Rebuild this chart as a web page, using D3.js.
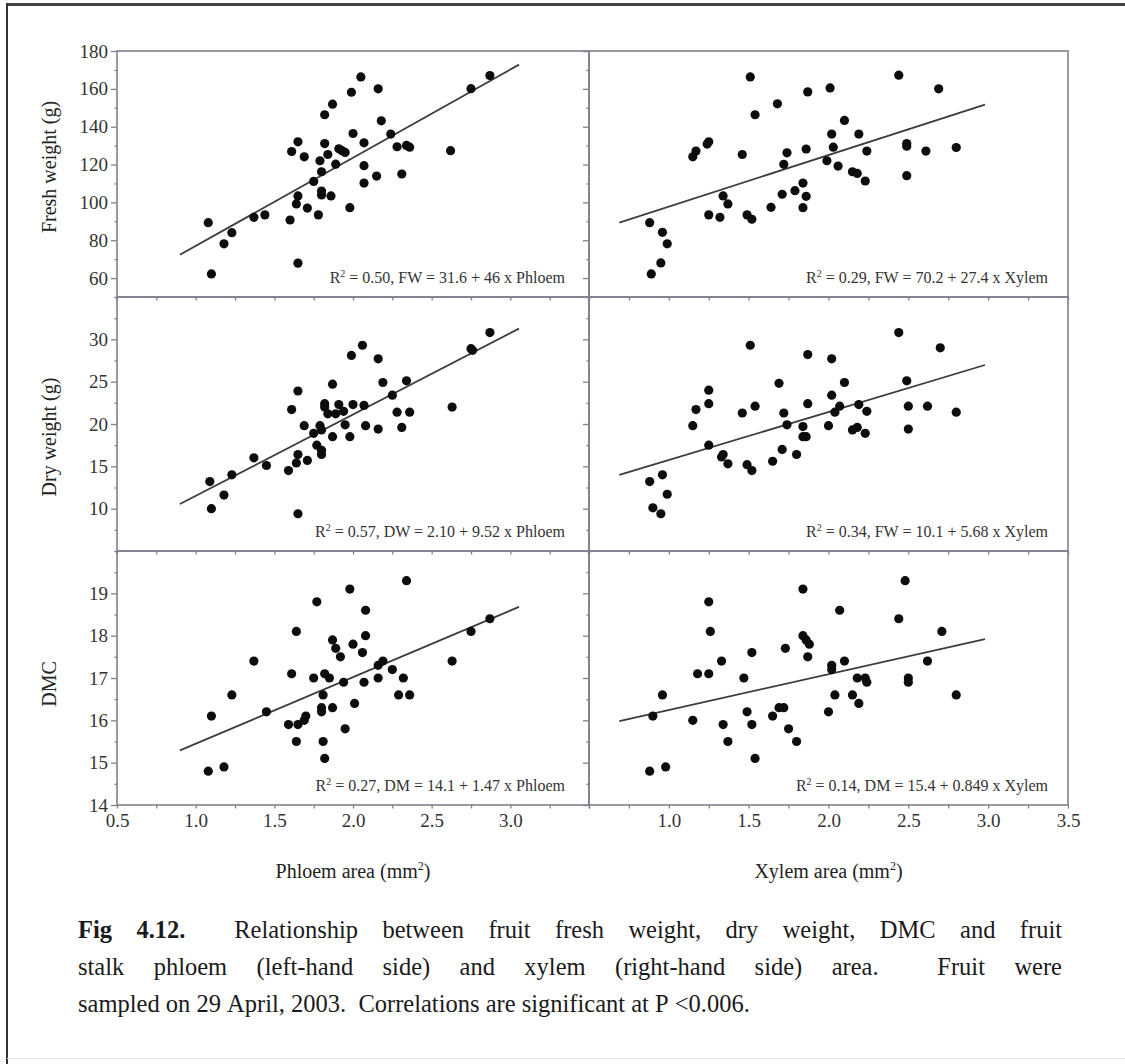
<!DOCTYPE html>
<html><head><meta charset="utf-8">
<script src="https://cdn.jsdelivr.net/npm/d3@7"></script>
<style>html,body{margin:0;padding:0;background:#fff}</style>
</head><body><svg id="chart" width="1125" height="1064"></svg>
<script>
// ---------- DATA ----------
const fwPhloemX=[1.08,1.10,1.18,1.23,1.37,1.44,1.60,1.61,1.65,1.65,1.64,1.65,1.69,1.71,1.75,1.78,1.79,1.80,1.80,1.80,1.82,1.82,1.84,1.86,1.87,1.89,1.91,1.93,1.95,1.98,1.99,2.00,2.05,2.07,2.07,2.07,2.15,2.16,2.18,2.24,2.28,2.31,2.34,2.36,2.62,2.75,2.87];
const fwPhloemY=[89.3,62.2,78.1,84.0,92.1,93.4,90.7,126.9,132.0,103.4,99.2,67.9,124.1,97.0,111.1,93.4,122.0,116.2,106.0,103.9,146.3,131.1,125.3,103.4,151.9,120.2,128.3,127.3,126.4,97.2,158.2,136.4,166.3,131.5,119.4,110.2,113.9,160.0,143.1,136.1,129.4,115.0,130.1,129.2,127.3,160.1,167.0];

const fwXylemX=[0.88,0.89,0.95,0.96,0.99,1.15,1.17,1.24,1.25,1.25,1.32,1.34,1.37,1.46,1.49,1.52,1.51,1.54,1.64,1.68,1.71,1.72,1.74,1.79,1.84,1.84,1.86,1.86,1.87,1.99,2.01,2.02,2.03,2.06,2.10,2.15,2.18,2.19,2.23,2.24,2.44,2.49,2.49,2.49,2.61,2.69,2.80];
const fwXylemY=[89.3,62.2,68.0,84.2,78.1,124.1,127.1,130.8,132.0,93.4,92.1,103.4,99.2,125.3,93.4,91.1,166.3,146.3,97.4,152.1,104.3,120.1,126.2,106.2,97.2,110.2,103.2,128.2,158.4,122.0,160.5,136.1,129.2,119.2,143.3,116.2,115.3,136.1,111.3,127.1,167.2,129.7,131.1,114.1,127.1,160.0,129.0];

const dwPhloemX=[1.09,1.10,1.18,1.23,1.37,1.45,1.59,1.61,1.65,1.65,1.64,1.65,1.69,1.71,1.75,1.77,1.79,1.80,1.80,1.80,1.82,1.82,1.84,1.87,1.87,1.89,1.91,1.94,1.95,1.98,1.99,2.00,2.06,2.07,2.08,2.16,2.16,2.19,2.25,2.28,2.31,2.34,2.36,2.63,2.75,2.87,2.76];
const dwPhloemY=[13.2,10.0,11.6,14.0,16.0,15.1,14.5,21.7,23.9,16.4,15.4,9.4,19.8,15.7,18.9,17.5,19.8,19.3,16.9,16.4,22.4,22.0,21.2,18.5,24.7,21.2,22.3,21.5,19.9,18.5,28.1,22.3,29.3,22.2,19.8,19.4,27.7,24.9,23.4,21.4,19.6,25.1,21.4,22.0,28.9,30.8,28.7];

const dwXylemX=[0.88,0.90,0.95,0.96,0.99,1.15,1.17,1.25,1.25,1.25,1.33,1.34,1.37,1.46,1.49,1.52,1.51,1.54,1.65,1.69,1.71,1.72,1.74,1.80,1.84,1.86,1.84,1.87,1.87,2.00,2.02,2.02,2.04,2.07,2.10,2.15,2.18,2.19,2.23,2.24,2.44,2.49,2.50,2.50,2.62,2.70,2.80];
const dwXylemY=[13.2,10.1,9.4,14.0,11.7,19.8,21.7,22.4,24.0,17.5,16.1,16.4,15.3,21.3,15.2,14.5,29.3,22.1,15.6,24.8,17.0,21.3,19.9,16.4,18.5,18.5,19.7,22.4,28.2,19.8,27.7,23.4,21.4,22.1,24.9,19.3,19.6,22.3,18.9,21.5,30.8,25.1,22.1,19.4,22.1,29.0,21.4];

const dmcPhloemX=[1.08,1.10,1.18,1.23,1.37,1.45,1.59,1.61,1.64,1.64,1.65,1.69,1.70,1.75,1.77,1.81,1.80,1.80,1.81,1.82,1.82,1.85,1.87,1.87,1.89,1.92,1.94,1.95,1.98,2.00,2.01,2.06,2.07,2.08,2.08,2.16,2.16,2.19,2.25,2.29,2.32,2.34,2.36,2.63,2.75,2.87];
const dmcPhloemY=[14.8,16.1,14.9,16.6,17.4,16.2,15.9,17.1,18.1,15.5,15.9,16.0,16.1,17.0,18.8,16.6,16.3,16.2,15.5,17.1,15.1,17.0,17.9,16.3,17.7,17.5,16.9,15.8,19.1,17.8,16.4,17.6,16.9,18.6,18.0,17.0,17.3,17.4,17.2,16.6,17.0,19.3,16.6,17.4,18.1,18.4];

const dmcXylemX=[0.88,0.90,0.96,0.98,1.15,1.18,1.25,1.26,1.25,1.33,1.34,1.37,1.47,1.49,1.52,1.52,1.54,1.65,1.69,1.72,1.73,1.75,1.80,1.84,1.84,1.86,1.88,1.87,2.00,2.02,2.02,2.04,2.07,2.10,2.15,2.18,2.19,2.23,2.24,2.44,2.48,2.50,2.50,2.62,2.71,2.80];
const dmcXylemY=[14.8,16.1,16.6,14.9,16.0,17.1,18.8,18.1,17.1,17.4,15.9,15.5,17.0,16.2,17.6,15.9,15.1,16.1,16.3,16.3,17.7,15.8,15.5,19.1,18.0,17.9,17.8,17.5,16.2,17.3,17.2,16.6,18.6,17.4,16.6,17.0,16.4,17.0,16.9,18.4,19.3,17.0,16.9,17.4,18.1,16.6];

// regression line end points [start, end]
const fitPhloemX=[0.9,3.055];
const fitXylemX=[0.69,2.98];
const fwPhloemFit=[72.3,172.8];
const fwXylemFit=[89.3,151.7];
const dwPhloemFit=[10.55,31.26];
const dwXylemFit=[14.0,26.97];
const dmcPhloemFit=[15.29,18.68];
const dmcXylemFit=[15.98,17.92];

const equations=[
  ["0.50","FW = 31.6 + 46 x Phloem"],
  ["0.29","FW = 70.2 + 27.4 x Xylem"],
  ["0.57","DW = 2.10 + 9.52 x Phloem"],
  ["0.34","FW = 10.1 + 5.68 x Xylem"],
  ["0.27","DM = 14.1 + 1.47 x Phloem"],
  ["0.14","DM = 15.4 + 0.849 x Xylem"]
];

// tick labels
const phloemTicks=[0.5,1.0,1.5,2.0,2.5,3.0];
const xylemTicks=[1.0,1.5,2.0,2.5,3.0,3.5];
const fwTicks=[60,80,100,120,140,160,180];
const dwTicks=[10,15,20,25,30];
const dmcTicks=[14,15,16,17,18,19];
const yTitles=["Fresh weight (g)","Dry weight (g)","DMC"];
const xTitles=["Phloem area (mm","Xylem area (mm"];
const captionLines=[
  "**Fig 4.12.**  Relationship between fruit fresh weight, dry weight, DMC and fruit",
  "stalk phloem (left-hand side) and xylem (right-hand side) area.  Fruit were",
  "sampled on 29 April, 2003.  Correlations are significant at P <0.006."
];

// ---------- LAYOUT ----------
const FONT="'Liberation Serif','Times New Roman',Times,serif";
const AX="#80808e";
const svg=d3.select('#chart');
svg.append('rect').attr('width',1125).attr('height',1064).attr('fill','#fff');

// outer frame
svg.append('line').attr('x1',6).attr('x2',1125).attr('y1',4.5).attr('y2',4.5).attr('stroke','#444').attr('stroke-width',3);
svg.append('line').attr('x1',7).attr('x2',7).attr('y1',3).attr('y2',1064).attr('stroke','#333').attr('stroke-width',2);
svg.append('line').attr('x1',7).attr('x2',1125).attr('y1',1058.5).attr('y2',1058.5).attr('stroke','#e4e4e4').attr('stroke-width',1);

const cols=[{x0:117,x1:589,ticks:phloemTicks},{x0:589,x1:1068,ticks:xylemTicks}];
const rows=[
  {y0:51,y1:297,dom:[50,180],ticks:fwTicks,minor:10},
  {y0:297,y1:551,dom:[5,35],ticks:dwTicks,minor:2.5},
  {y0:551,y1:805,dom:[14,20],ticks:dmcTicks,minor:0.5}
];
cols.forEach(c=>c.scale=d3.scaleLinear().domain([0.5,3.5]).range([c.x0,c.x1]));
rows.forEach(r=>r.scale=d3.scaleLinear().domain(r.dom).range([r.y1,r.y0]));

const panels=[
  {r:0,c:0,x:fwPhloemX,y:fwPhloemY,fx:fitPhloemX,fy:fwPhloemFit},
  {r:0,c:1,x:fwXylemX,y:fwXylemY,fx:fitXylemX,fy:fwXylemFit},
  {r:1,c:0,x:dwPhloemX,y:dwPhloemY,fx:fitPhloemX,fy:dwPhloemFit},
  {r:1,c:1,x:dwXylemX,y:dwXylemY,fx:fitXylemX,fy:dwXylemFit},
  {r:2,c:0,x:dmcPhloemX,y:dmcPhloemY,fx:fitPhloemX,fy:dmcPhloemFit},
  {r:2,c:1,x:dmcXylemX,y:dmcXylemY,fx:fitXylemX,fy:dmcXylemFit}
];

function styleAxis(g){
  g.select('.domain').remove();
  g.selectAll('.tick line').attr('stroke',AX).attr('stroke-width',1.3);
  g.selectAll('.tick text').attr('font-family',FONT).attr('font-size',19).attr('fill','#333');
}

panels.forEach((p,i)=>{
  const R=rows[p.r],C=cols[p.c];
  const xs=C.scale, ys=R.scale;
  const minorVals=d3.range(R.dom[0],R.dom[1]+1e-9,R.minor).filter(v=>!R.ticks.includes(v));
  svg.append('g').attr('transform',`translate(${C.x0},0)`)
    .call(d3.axisLeft(ys).tickValues(minorVals).tickSize(2.5).tickFormat(''))
    .call(styleAxis);
  svg.append('g').attr('transform',`translate(${C.x0},0)`)
    .call(d3.axisLeft(ys).tickValues(R.ticks).tickSize(6).tickPadding(3)
      .tickFormat(p.c===0?d3.format('d'):''))
    .call(styleAxis);
  const xt=d3.range(0.5,3.5+1e-9,0.25);
  const xa=svg.append('g').attr('transform',`translate(0,${R.y1})`)
    .call(d3.axisBottom(xs).tickValues(xt).tickSize(3.5)
      .tickFormat(d=>(p.r===2 && C.ticks.some(t=>Math.abs(t-d)<1e-9))?d3.format('.1f')(d):''))
    .call(styleAxis);
  xa.selectAll('.tick text').attr('y',22).attr('dy',0);
  svg.append('rect').attr('x',C.x0).attr('y',R.y0).attr('width',C.x1-C.x0).attr('height',R.y1-R.y0)
    .attr('fill','none').attr('stroke',AX).attr('stroke-width',1.6);
  svg.append('line')
    .attr('x1',xs(p.fx[0])).attr('y1',ys(p.fy[0]))
    .attr('x2',xs(p.fx[1])).attr('y2',ys(p.fy[1]))
    .attr('stroke','#3c3c3c').attr('stroke-width',1.8);
  svg.append('g').selectAll('circle').data(p.x.map((v,k)=>[v,p.y[k]])).join('circle')
    .attr('cx',d=>xs(d[0])).attr('cy',d=>ys(d[1])).attr('r',4.6).attr('fill','#0d0d0d');
  const eq=equations[i];
  const t=svg.append('text').attr('x',C.x1-(p.c===0?24:20)).attr('y',R.y1-14)
    .attr('text-anchor','end').attr('font-family',FONT).attr('font-size',16).attr('fill','#333');
  t.append('tspan').text('R');
  t.append('tspan').attr('dy',-6).attr('font-size',10).text('2');
  t.append('tspan').attr('dy',6).text(` = ${eq[0]}, ${eq[1]}`);
});

// y titles
rows.forEach((r,i)=>{
  const cy=[167,437,684][i];
  svg.append('text').attr('transform',`translate(56,${cy}) rotate(-90)`)
    .attr('text-anchor','middle').attr('font-family',FONT).attr('font-size',20).attr('fill','#222')
    .text(yTitles[i]);
});
// x titles
cols.forEach((c,i)=>{
  const t=svg.append('text').attr('x',(c.x0+c.x1)/2).attr('y',878)
    .attr('text-anchor','middle').attr('font-family',FONT).attr('font-size',20).attr('fill','#222');
  t.append('tspan').text(xTitles[i]);
  t.append('tspan').attr('dy',-8).attr('font-size',12).text('2');
  t.append('tspan').attr('dy',8).text(')');
});

// caption (justified)
const capX0=78, capX1=1062, capSize=24.5, capY=[938,975,1012];
const meas=svg.append('text').attr('font-family',FONT).attr('font-size',capSize).attr('x',-1000).attr('y',-1000);
function width(txt,bold){meas.attr('font-weight',bold?'bold':'normal').text(txt);return meas.node().getComputedTextLength();}
const spaceW=width('a a',false)-width('aa',false);
captionLines.forEach((line,li)=>{
  const words=[];
  let bold=false;
  line.split(/(\*\*)/).forEach(part=>{
    if(part==='**'){bold=!bold;return;}
    const re=/(\S+)(\s*)/g;let m;
    while((m=re.exec(part))!==null){
      if(!m[1]) continue;
      words.push({t:m[1],b:bold,gap:m[2].length});
    }
  });
  for(let k=0;k<words.length-1;k++){ if(words[k].gap===0) words[k].gap=1; }
  if(li===0){ const idx=words.findIndex(w=>w.t==='4.12.'); if(idx>=0) words[idx].gap=2; }
  words.forEach(w=>w.w=width(w.t,w.b));
  const total=d3.sum(words,w=>w.w);
  const gapUnits=d3.sum(words.slice(0,-1),w=>w.gap);
  const justify=li<captionLines.length-1;
  const unit=justify?(capX1-capX0-total)/gapUnits:spaceW;
  let x=capX0;
  words.forEach((w,k)=>{
    svg.append('text').attr('x',x).attr('y',capY[li]).attr('font-family',FONT).attr('font-size',capSize)
      .attr('font-weight',w.b?'bold':'normal').attr('fill','#1a1a1a').text(w.t);
    x+=w.w+(k<words.length-1?w.gap*unit:0);
  });
});
meas.remove();
</script></body></html>
